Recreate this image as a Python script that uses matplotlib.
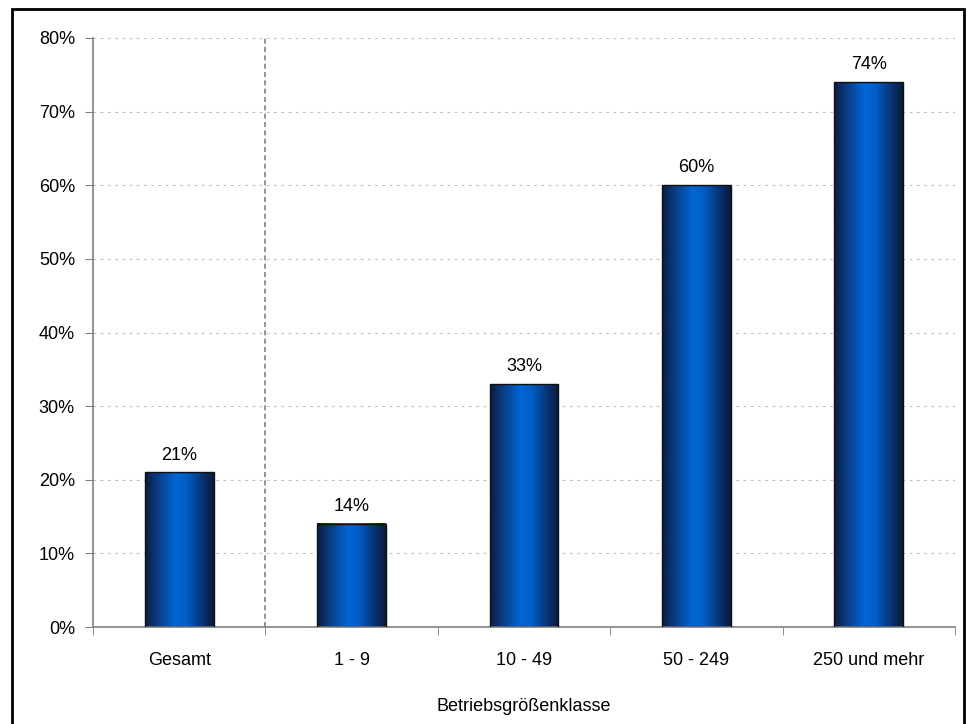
import matplotlib.pyplot as plt
import numpy as np
from matplotlib.colors import LinearSegmentedColormap
from matplotlib.patches import Rectangle

plt.rcParams['font.family'] = ['Liberation Sans', 'DejaVu Sans']

categories = ["Gesamt", "1 - 9", "10 - 49", "50 - 249", "250 und mehr"]
values = [21, 14, 33, 60, 74]
labels = ["21%", "14%", "33%", "60%", "74%"]

fig = plt.figure(figsize=(9.67, 7.24), dpi=100)
ax = fig.add_axes([93/967, 1-627/724, (955-93)/967, (627-38)/724])

x = np.arange(len(categories))
width = 0.4

# bar gradient: dark edges, bright blue centre
cmap = LinearSegmentedColormap.from_list("bar", [
    (0.0, "#0a1d40"), (0.2, "#0a3f8a"), (0.45, "#0066d6"),
    (0.6, "#005ec8"), (0.85, "#08306e"), (1.0, "#0a1a3a")])
grad = np.linspace(0, 1, 256).reshape(1, -1)

bars = ax.bar(x, values, width, color="none", edgecolor="#101010", linewidth=1, zorder=3)
for b in bars:
    ax.imshow(grad, cmap=cmap, aspect="auto", zorder=2,
              extent=[b.get_x(), b.get_x() + b.get_width(), 0, b.get_height()])

for xi, v, lab in zip(x, values, labels):
    ax.text(xi, v + 1.2, lab, ha="center", va="bottom", fontsize=13)

ax.set_xlim(-0.5, len(categories) - 0.5)
ax.set_ylim(0, 80)
ax.set_yticks(range(0, 81, 10))
ax.set_yticklabels([f"{t}%" for t in range(0, 81, 10)], fontsize=13)
ax.set_xticks(x)
ax.set_xticklabels(categories, fontsize=13)
ax.tick_params(axis="x", length=0, pad=18)
ax.set_xticks(np.arange(-0.5, len(categories)), minor=True)
ax.tick_params(axis="x", which="minor", length=6, color="#808080", direction="out")
ax.tick_params(axis="y", length=6, color="#808080", direction="out", pad=7)

ax.grid(axis="y", linestyle=(0, (2.5, 4)), color="#c0c0c0", linewidth=0.8, zorder=0)
ax.axvline(0.5, color="#808080", linestyle=(0, (3, 2)), linewidth=1.2, zorder=1)

for s in ["top", "right"]:
    ax.spines[s].set_visible(False)
for s in ["left", "bottom"]:
    ax.spines[s].set_color("#808080")
    ax.spines[s].set_linewidth(1.2)

ax.set_xlabel("Betriebsgrößenklasse", fontsize=13, labelpad=21)

fig.patches.append(Rectangle((12/967, -0.01), (964-12)/967, 1-9/724 + 0.01,
                             transform=fig.transFigure, fill=False,
                             edgecolor="black", linewidth=2))

fig.savefig("out.png", dpi=100)
